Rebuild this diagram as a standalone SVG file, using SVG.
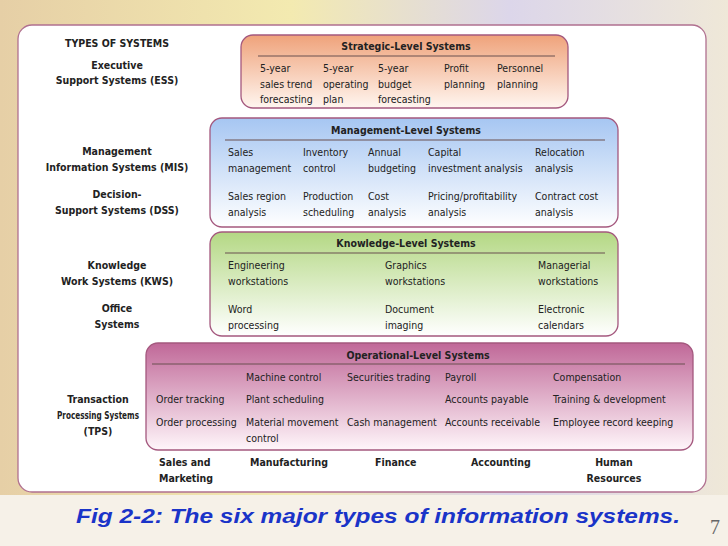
<svg xmlns="http://www.w3.org/2000/svg" width="728" height="546" viewBox="0 0 728 546">
<defs>
<linearGradient id="gS" x1="0" y1="0" x2="0" y2="1"><stop offset="0" stop-color="#efa27a"/><stop offset="1" stop-color="#fff6f0"/></linearGradient>
<linearGradient id="gM" x1="0" y1="0" x2="0" y2="1"><stop offset="0" stop-color="#a6c6f2"/><stop offset="1" stop-color="#ffffff"/></linearGradient>
<linearGradient id="gK" x1="0" y1="0" x2="0" y2="1"><stop offset="0" stop-color="#b4d884"/><stop offset="1" stop-color="#ffffff"/></linearGradient>
<linearGradient id="gO" x1="0" y1="0" x2="0" y2="1"><stop offset="0" stop-color="#c06898"/><stop offset="1" stop-color="#fff6fa"/></linearGradient>
<linearGradient id="bg" x1="0" y1="0" x2="1" y2="0"><stop offset="0" stop-color="#e6cfa6"/><stop offset="0.4" stop-color="#f3eab0"/><stop offset="0.7" stop-color="#dcd6ea"/><stop offset="1" stop-color="#efe8d8"/></linearGradient>
<style>
text{font-family:"DejaVu Sans Condensed","Liberation Sans",sans-serif;font-size:10.5px;fill:#222}
.b{font-weight:bold}
.c{text-anchor:middle}
.box{stroke:#a4587e;stroke-width:1.3}
.hl{stroke:#6a5050;stroke-width:1.2}
</style>
</defs>
<rect width="728" height="546" fill="url(#bg)"/>
<rect x="0" y="495" width="728" height="51" fill="#f6f1e8"/>
<rect x="18" y="25" width="688" height="467" rx="14" fill="#ffffff" stroke="#b07090" stroke-width="1.3"/>
<g id="strategic">
<rect class="box" x="241" y="35" width="327" height="73" rx="12" fill="url(#gS)"/>
<text class="b c" x="406" y="50">Strategic-Level Systems</text>
<line class="hl" x1="258" y1="56" x2="555" y2="56"/>
<text x="260" y="72">5-year</text><text x="260" y="88">sales trend</text><text x="260" y="103">forecasting</text>
<text x="323" y="72">5-year</text><text x="323" y="88">operating</text><text x="323" y="103">plan</text>
<text x="378" y="72">5-year</text><text x="378" y="88">budget</text><text x="378" y="103">forecasting</text>
<text x="444" y="72">Profit</text><text x="444" y="88">planning</text>
<text x="497" y="72">Personnel</text><text x="497" y="88">planning</text>
</g>
<g id="management">
<rect class="box" x="210" y="118" width="408" height="109" rx="12" fill="url(#gM)"/>
<text class="b c" x="406" y="134">Management-Level Systems</text>
<line class="hl" x1="225" y1="140" x2="605" y2="140"/>
<text x="228" y="156">Sales</text><text x="228" y="172">management</text>
<text x="303" y="156">Inventory</text><text x="303" y="172">control</text>
<text x="368" y="156">Annual</text><text x="368" y="172">budgeting</text>
<text x="428" y="156">Capital</text><text x="428" y="172">investment analysis</text>
<text x="535" y="156">Relocation</text><text x="535" y="172">analysis</text>
<text x="228" y="200">Sales region</text><text x="228" y="216">analysis</text>
<text x="303" y="200">Production</text><text x="303" y="216">scheduling</text>
<text x="368" y="200">Cost</text><text x="368" y="216">analysis</text>
<text x="428" y="200">Pricing/profitability</text><text x="428" y="216">analysis</text>
<text x="535" y="200">Contract cost</text><text x="535" y="216">analysis</text>
</g>
<g id="knowledge">
<rect class="box" x="210" y="232" width="408" height="104" rx="12" fill="url(#gK)"/>
<text class="b c" x="406" y="247">Knowledge-Level Systems</text>
<line class="hl" x1="225" y1="253" x2="605" y2="253"/>
<text x="228" y="269">Engineering</text><text x="228" y="285">workstations</text>
<text x="385" y="269">Graphics</text><text x="385" y="285">workstations</text>
<text x="538" y="269">Managerial</text><text x="538" y="285">workstations</text>
<text x="228" y="313">Word</text><text x="228" y="329">processing</text>
<text x="385" y="313">Document</text><text x="385" y="329">imaging</text>
<text x="538" y="313">Electronic</text><text x="538" y="329">calendars</text>
</g>
<g id="operational">
<rect class="box" x="146" y="343" width="547" height="107" rx="12" fill="url(#gO)"/>
<text class="b c" x="418" y="359">Operational-Level Systems</text>
<line class="hl" x1="152" y1="364" x2="685" y2="364"/>
<text x="246" y="381">Machine control</text><text x="347" y="381">Securities trading</text><text x="445" y="381">Payroll</text><text x="553" y="381">Compensation</text>
<text x="156" y="403">Order tracking</text><text x="246" y="403">Plant scheduling</text><text x="445" y="403">Accounts payable</text><text x="553" y="403">Training &amp; development</text>
<text x="156" y="426">Order processing</text><text x="246" y="426">Material movement</text><text x="347" y="426">Cash management</text><text x="445" y="426">Accounts receivable</text><text x="553" y="426">Employee record keeping</text>
<text x="246" y="442">control</text>
</g>
<g id="labels">
<text class="b c" x="117" y="47">TYPES OF SYSTEMS</text>
<text class="b c" x="117" y="69">Executive</text>
<text class="b c" x="117" y="84">Support Systems (ESS)</text>
<text class="b c" x="117" y="155">Management</text>
<text class="b c" x="117" y="171">Information Systems (MIS)</text>
<text class="b c" x="117" y="198">Decision-</text>
<text class="b c" x="117" y="214">Support Systems (DSS)</text>
<text class="b c" x="117" y="269">Knowledge</text>
<text class="b c" x="117" y="285">Work Systems (KWS)</text>
<text class="b c" x="117" y="312">Office</text>
<text class="b c" x="117" y="328">Systems</text>
<text class="b c" x="98" y="403">Transaction</text>
<text class="b c" x="98" y="419" textLength="82" lengthAdjust="spacingAndGlyphs">Processing Systems</text>
<text class="b c" x="98" y="435">(TPS)</text>
</g>
<g id="functions">
<text class="b" x="159" y="466">Sales and</text><text class="b" x="159" y="482">Marketing</text>
<text class="b" x="250" y="466">Manufacturing</text>
<text class="b" x="375" y="466">Finance</text>
<text class="b" x="471" y="466">Accounting</text>
<text class="b c" x="614" y="466">Human</text><text class="b c" x="614" y="482">Resources</text>
</g>
<g id="connectors"></g>
<text x="76" y="523" textLength="604" lengthAdjust="spacingAndGlyphs" style="font-family:'Liberation Sans',Arial,sans-serif;font-size:21px;font-weight:bold;font-style:italic;fill:#1a34c8">Fig 2-2:  The six major types of information systems.</text>
<text x="710" y="534" style="font-family:'Liberation Serif',serif;font-size:20px;fill:#666">7</text>
</svg>
